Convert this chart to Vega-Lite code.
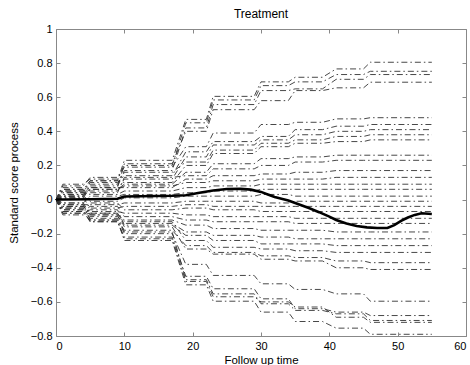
{
"$schema":"https://vega.github.io/schema/vega-lite/v6.json",
"width":410,"height":307,
"autosize":{"type":"none"},
"padding":{"left":56,"top":29,"right":4,"bottom":29},
"config":{"view":{"stroke":null},"font":"Liberation Sans",
 "axis":{"domainColor":"#888888","tickColor":"#888888","tickSize":-4,"labelPadding":8,"labelFontSize":11,"labelColor":"black","titleFontSize":11.5,"titleFontWeight":"normal","titleColor":"black","grid":false}},
"title":{"text":"Treatment","fontSize":12,"fontWeight":"normal","offset":2,"font":"Liberation Sans"},
"datasets":{
"sim":[
{"p":1,"t":0,"v":0},{"p":1,"t":1,"v":0.06},{"p":1,"t":4,"v":0.06},{"p":1,"t":5,"v":0.11},{"p":1,"t":9,"v":0.11},{"p":1,"t":10,"v":0.23},{"p":1,"t":17,"v":0.23},{"p":1,"t":19,"v":0.47},{"p":1,"t":22,"v":0.47},{"p":1,"t":23,"v":0.605},{"p":1,"t":29,"v":0.605},{"p":1,"t":30,"v":0.69},{"p":1,"t":34,"v":0.69},{"p":1,"t":35,"v":0.717},{"p":1,"t":39,"v":0.717},{"p":1,"t":41,"v":0.766},{"p":1,"t":45,"v":0.766},{"p":1,"t":46,"v":0.805},{"p":1,"t":55,"v":0.805},
{"p":2,"t":0,"v":0},{"p":2,"t":1,"v":0.08},{"p":2,"t":4,"v":0.08},{"p":2,"t":5,"v":0.13},{"p":2,"t":9,"v":0.13},{"p":2,"t":10,"v":0.2},{"p":2,"t":17,"v":0.2},{"p":2,"t":19,"v":0.45},{"p":2,"t":22,"v":0.45},{"p":2,"t":23,"v":0.584},{"p":2,"t":29,"v":0.584},{"p":2,"t":30,"v":0.668},{"p":2,"t":34,"v":0.668},{"p":2,"t":35,"v":0.69},{"p":2,"t":39,"v":0.69},{"p":2,"t":41,"v":0.733},{"p":2,"t":45,"v":0.733},{"p":2,"t":46,"v":0.752},{"p":2,"t":55,"v":0.752},
{"p":3,"t":0,"v":0},{"p":3,"t":1,"v":0.03},{"p":3,"t":4,"v":0.03},{"p":3,"t":5,"v":0.09},{"p":3,"t":9,"v":0.09},{"p":3,"t":10,"v":0.17},{"p":3,"t":17,"v":0.17},{"p":3,"t":19,"v":0.42},{"p":3,"t":22,"v":0.42},{"p":3,"t":23,"v":0.557},{"p":3,"t":29,"v":0.557},{"p":3,"t":30,"v":0.639},{"p":3,"t":34,"v":0.639},{"p":3,"t":35,"v":0.649},{"p":3,"t":39,"v":0.649},{"p":3,"t":41,"v":0.705},{"p":3,"t":45,"v":0.705},{"p":3,"t":46,"v":0.733},{"p":3,"t":55,"v":0.733},
{"p":4,"t":0,"v":0},{"p":4,"t":1,"v":0.05},{"p":4,"t":4,"v":0.05},{"p":4,"t":5,"v":0.07},{"p":4,"t":9,"v":0.07},{"p":4,"t":10,"v":0.21},{"p":4,"t":17,"v":0.21},{"p":4,"t":19,"v":0.4},{"p":4,"t":22,"v":0.4},{"p":4,"t":23,"v":0.527},{"p":4,"t":29,"v":0.527},{"p":4,"t":30,"v":0.58},{"p":4,"t":34,"v":0.58},{"p":4,"t":35,"v":0.639},{"p":4,"t":39,"v":0.639},{"p":4,"t":41,"v":0.655},{"p":4,"t":45,"v":0.655},{"p":4,"t":46,"v":0.688},{"p":4,"t":55,"v":0.688},
{"p":5,"t":0,"v":0},{"p":5,"t":1,"v":0.09},{"p":5,"t":4,"v":0.09},{"p":5,"t":5,"v":0.12},{"p":5,"t":9,"v":0.12},{"p":5,"t":10,"v":0.19},{"p":5,"t":17,"v":0.19},{"p":5,"t":19,"v":0.31},{"p":5,"t":22,"v":0.31},{"p":5,"t":23,"v":0.39},{"p":5,"t":29,"v":0.39},{"p":5,"t":30,"v":0.44},{"p":5,"t":34,"v":0.44},{"p":5,"t":35,"v":0.453},{"p":5,"t":39,"v":0.453},{"p":5,"t":41,"v":0.473},{"p":5,"t":45,"v":0.473},{"p":5,"t":46,"v":0.48},{"p":5,"t":55,"v":0.48},
{"p":6,"t":0,"v":0},{"p":6,"t":1,"v":0.04},{"p":6,"t":4,"v":0.04},{"p":6,"t":5,"v":0.1},{"p":6,"t":9,"v":0.1},{"p":6,"t":10,"v":0.14},{"p":6,"t":17,"v":0.14},{"p":6,"t":19,"v":0.28},{"p":6,"t":22,"v":0.28},{"p":6,"t":23,"v":0.34},{"p":6,"t":29,"v":0.34},{"p":6,"t":30,"v":0.37},{"p":6,"t":34,"v":0.37},{"p":6,"t":35,"v":0.41},{"p":6,"t":39,"v":0.41},{"p":6,"t":41,"v":0.43},{"p":6,"t":45,"v":0.43},{"p":6,"t":46,"v":0.44},{"p":6,"t":55,"v":0.44},
{"p":7,"t":0,"v":0},{"p":7,"t":1,"v":0.07},{"p":7,"t":4,"v":0.07},{"p":7,"t":5,"v":0.05},{"p":7,"t":9,"v":0.05},{"p":7,"t":10,"v":0.12},{"p":7,"t":17,"v":0.12},{"p":7,"t":19,"v":0.25},{"p":7,"t":22,"v":0.25},{"p":7,"t":23,"v":0.32},{"p":7,"t":29,"v":0.32},{"p":7,"t":30,"v":0.35},{"p":7,"t":34,"v":0.35},{"p":7,"t":35,"v":0.38},{"p":7,"t":39,"v":0.38},{"p":7,"t":41,"v":0.4},{"p":7,"t":45,"v":0.4},{"p":7,"t":46,"v":0.41},{"p":7,"t":55,"v":0.41},
{"p":8,"t":0,"v":0},{"p":8,"t":1,"v":0.02},{"p":8,"t":4,"v":0.02},{"p":8,"t":5,"v":0.08},{"p":8,"t":9,"v":0.08},{"p":8,"t":10,"v":0.16},{"p":8,"t":17,"v":0.16},{"p":8,"t":19,"v":0.22},{"p":8,"t":22,"v":0.22},{"p":8,"t":23,"v":0.29},{"p":8,"t":29,"v":0.29},{"p":8,"t":30,"v":0.33},{"p":8,"t":34,"v":0.33},{"p":8,"t":35,"v":0.35},{"p":8,"t":39,"v":0.35},{"p":8,"t":41,"v":0.37},{"p":8,"t":45,"v":0.37},{"p":8,"t":46,"v":0.38},{"p":8,"t":55,"v":0.38},
{"p":9,"t":0,"v":0},{"p":9,"t":1,"v":0.05},{"p":9,"t":4,"v":0.05},{"p":9,"t":5,"v":0.11},{"p":9,"t":9,"v":0.11},{"p":9,"t":10,"v":0.1},{"p":9,"t":17,"v":0.1},{"p":9,"t":19,"v":0.2},{"p":9,"t":22,"v":0.2},{"p":9,"t":23,"v":0.27},{"p":9,"t":29,"v":0.27},{"p":9,"t":30,"v":0.31},{"p":9,"t":34,"v":0.31},{"p":9,"t":35,"v":0.33},{"p":9,"t":39,"v":0.33},{"p":9,"t":41,"v":0.34},{"p":9,"t":45,"v":0.34},{"p":9,"t":46,"v":0.35},{"p":9,"t":55,"v":0.35},
{"p":10,"t":0,"v":0},{"p":10,"t":1,"v":0.03},{"p":10,"t":4,"v":0.03},{"p":10,"t":5,"v":0.06},{"p":10,"t":9,"v":0.06},{"p":10,"t":10,"v":0.09},{"p":10,"t":17,"v":0.09},{"p":10,"t":19,"v":0.16},{"p":10,"t":22,"v":0.16},{"p":10,"t":23,"v":0.21},{"p":10,"t":29,"v":0.21},{"p":10,"t":30,"v":0.24},{"p":10,"t":34,"v":0.24},{"p":10,"t":35,"v":0.25},{"p":10,"t":39,"v":0.25},{"p":10,"t":41,"v":0.26},{"p":10,"t":45,"v":0.26},{"p":10,"t":46,"v":0.26},{"p":10,"t":55,"v":0.26},
{"p":11,"t":0,"v":0},{"p":11,"t":1,"v":0.06},{"p":11,"t":4,"v":0.06},{"p":11,"t":5,"v":0.04},{"p":11,"t":9,"v":0.04},{"p":11,"t":10,"v":0.13},{"p":11,"t":17,"v":0.13},{"p":11,"t":19,"v":0.14},{"p":11,"t":22,"v":0.14},{"p":11,"t":23,"v":0.18},{"p":11,"t":29,"v":0.18},{"p":11,"t":30,"v":0.2},{"p":11,"t":34,"v":0.2},{"p":11,"t":35,"v":0.22},{"p":11,"t":39,"v":0.22},{"p":11,"t":41,"v":0.23},{"p":11,"t":45,"v":0.23},{"p":11,"t":46,"v":0.23},{"p":11,"t":55,"v":0.23},
{"p":12,"t":0,"v":0},{"p":12,"t":1,"v":0.01},{"p":12,"t":4,"v":0.01},{"p":12,"t":5,"v":0.07},{"p":12,"t":9,"v":0.07},{"p":12,"t":10,"v":0.07},{"p":12,"t":17,"v":0.07},{"p":12,"t":19,"v":0.12},{"p":12,"t":22,"v":0.12},{"p":12,"t":23,"v":0.14},{"p":12,"t":29,"v":0.14},{"p":12,"t":30,"v":0.15},{"p":12,"t":34,"v":0.15},{"p":12,"t":35,"v":0.16},{"p":12,"t":39,"v":0.16},{"p":12,"t":41,"v":0.17},{"p":12,"t":45,"v":0.17},{"p":12,"t":46,"v":0.17},{"p":12,"t":55,"v":0.17},
{"p":13,"t":0,"v":0},{"p":13,"t":1,"v":0.04},{"p":13,"t":4,"v":0.04},{"p":13,"t":5,"v":0.03},{"p":13,"t":9,"v":0.03},{"p":13,"t":10,"v":0.05},{"p":13,"t":17,"v":0.05},{"p":13,"t":19,"v":0.07},{"p":13,"t":22,"v":0.07},{"p":13,"t":23,"v":0.08},{"p":13,"t":29,"v":0.08},{"p":13,"t":30,"v":0.09},{"p":13,"t":34,"v":0.09},{"p":13,"t":35,"v":0.09},{"p":13,"t":39,"v":0.09},{"p":13,"t":41,"v":0.09},{"p":13,"t":45,"v":0.09},{"p":13,"t":46,"v":0.09},{"p":13,"t":55,"v":0.09},
{"p":14,"t":0,"v":0},{"p":14,"t":1,"v":-0.02},{"p":14,"t":4,"v":-0.02},{"p":14,"t":5,"v":0.02},{"p":14,"t":9,"v":0.02},{"p":14,"t":10,"v":0.03},{"p":14,"t":17,"v":0.03},{"p":14,"t":19,"v":0.04},{"p":14,"t":22,"v":0.04},{"p":14,"t":23,"v":0.05},{"p":14,"t":29,"v":0.05},{"p":14,"t":30,"v":0.06},{"p":14,"t":34,"v":0.06},{"p":14,"t":35,"v":0.06},{"p":14,"t":39,"v":0.06},{"p":14,"t":41,"v":0.06},{"p":14,"t":45,"v":0.06},{"p":14,"t":46,"v":0.06},{"p":14,"t":55,"v":0.06},
{"p":15,"t":0,"v":0},{"p":15,"t":1,"v":0.02},{"p":15,"t":4,"v":0.02},{"p":15,"t":5,"v":-0.01},{"p":15,"t":9,"v":-0.01},{"p":15,"t":10,"v":0.01},{"p":15,"t":17,"v":0.01},{"p":15,"t":19,"v":0.02},{"p":15,"t":22,"v":0.02},{"p":15,"t":23,"v":0.02},{"p":15,"t":29,"v":0.02},{"p":15,"t":30,"v":0.03},{"p":15,"t":34,"v":0.03},{"p":15,"t":35,"v":0.02},{"p":15,"t":39,"v":0.02},{"p":15,"t":41,"v":0.02},{"p":15,"t":45,"v":0.02},{"p":15,"t":46,"v":0.02},{"p":15,"t":55,"v":0.02},
{"p":16,"t":0,"v":0},{"p":16,"t":1,"v":-0.03},{"p":16,"t":4,"v":-0.03},{"p":16,"t":5,"v":-0.03},{"p":16,"t":9,"v":-0.03},{"p":16,"t":10,"v":-0.02},{"p":16,"t":17,"v":-0.02},{"p":16,"t":19,"v":-0.01},{"p":16,"t":22,"v":-0.01},{"p":16,"t":23,"v":-0.01},{"p":16,"t":29,"v":-0.01},{"p":16,"t":30,"v":-0.02},{"p":16,"t":34,"v":-0.02},{"p":16,"t":35,"v":-0.01},{"p":16,"t":39,"v":-0.01},{"p":16,"t":41,"v":-0.01},{"p":16,"t":45,"v":-0.01},{"p":16,"t":46,"v":-0.01},{"p":16,"t":55,"v":-0.01},
{"p":17,"t":0,"v":0},{"p":17,"t":1,"v":0.01},{"p":17,"t":4,"v":0.01},{"p":17,"t":5,"v":-0.05},{"p":17,"t":9,"v":-0.05},{"p":17,"t":10,"v":-0.04},{"p":17,"t":17,"v":-0.04},{"p":17,"t":19,"v":-0.03},{"p":17,"t":22,"v":-0.03},{"p":17,"t":23,"v":-0.04},{"p":17,"t":29,"v":-0.04},{"p":17,"t":30,"v":-0.04},{"p":17,"t":34,"v":-0.04},{"p":17,"t":35,"v":-0.04},{"p":17,"t":39,"v":-0.04},{"p":17,"t":41,"v":-0.04},{"p":17,"t":45,"v":-0.04},{"p":17,"t":46,"v":-0.04},{"p":17,"t":55,"v":-0.04},
{"p":18,"t":0,"v":0},{"p":18,"t":1,"v":-0.05},{"p":18,"t":4,"v":-0.05},{"p":18,"t":5,"v":-0.02},{"p":18,"t":9,"v":-0.02},{"p":18,"t":10,"v":-0.06},{"p":18,"t":17,"v":-0.06},{"p":18,"t":19,"v":-0.05},{"p":18,"t":22,"v":-0.05},{"p":18,"t":23,"v":-0.06},{"p":18,"t":29,"v":-0.06},{"p":18,"t":30,"v":-0.07},{"p":18,"t":34,"v":-0.07},{"p":18,"t":35,"v":-0.07},{"p":18,"t":39,"v":-0.07},{"p":18,"t":41,"v":-0.07},{"p":18,"t":45,"v":-0.07},{"p":18,"t":46,"v":-0.07},{"p":18,"t":55,"v":-0.07},
{"p":19,"t":0,"v":0},{"p":19,"t":1,"v":-0.04},{"p":19,"t":4,"v":-0.04},{"p":19,"t":5,"v":-0.07},{"p":19,"t":9,"v":-0.07},{"p":19,"t":10,"v":-0.08},{"p":19,"t":17,"v":-0.08},{"p":19,"t":19,"v":-0.09},{"p":19,"t":22,"v":-0.09},{"p":19,"t":23,"v":-0.1},{"p":19,"t":29,"v":-0.1},{"p":19,"t":30,"v":-0.1},{"p":19,"t":34,"v":-0.1},{"p":19,"t":35,"v":-0.11},{"p":19,"t":39,"v":-0.11},{"p":19,"t":41,"v":-0.11},{"p":19,"t":45,"v":-0.11},{"p":19,"t":46,"v":-0.11},{"p":19,"t":55,"v":-0.11},
{"p":20,"t":0,"v":0},{"p":20,"t":1,"v":-0.07},{"p":20,"t":4,"v":-0.07},{"p":20,"t":5,"v":-0.04},{"p":20,"t":9,"v":-0.04},{"p":20,"t":10,"v":-0.1},{"p":20,"t":17,"v":-0.1},{"p":20,"t":19,"v":-0.12},{"p":20,"t":22,"v":-0.12},{"p":20,"t":23,"v":-0.13},{"p":20,"t":29,"v":-0.13},{"p":20,"t":30,"v":-0.13},{"p":20,"t":34,"v":-0.13},{"p":20,"t":35,"v":-0.14},{"p":20,"t":39,"v":-0.14},{"p":20,"t":41,"v":-0.14},{"p":20,"t":45,"v":-0.14},{"p":20,"t":46,"v":-0.14},{"p":20,"t":55,"v":-0.14},
{"p":21,"t":0,"v":0},{"p":21,"t":1,"v":-0.02},{"p":21,"t":4,"v":-0.02},{"p":21,"t":5,"v":-0.09},{"p":21,"t":9,"v":-0.09},{"p":21,"t":10,"v":-0.12},{"p":21,"t":17,"v":-0.12},{"p":21,"t":19,"v":-0.15},{"p":21,"t":22,"v":-0.15},{"p":21,"t":23,"v":-0.17},{"p":21,"t":29,"v":-0.17},{"p":21,"t":30,"v":-0.18},{"p":21,"t":34,"v":-0.18},{"p":21,"t":35,"v":-0.18},{"p":21,"t":39,"v":-0.18},{"p":21,"t":41,"v":-0.19},{"p":21,"t":45,"v":-0.19},{"p":21,"t":46,"v":-0.19},{"p":21,"t":55,"v":-0.19},
{"p":22,"t":0,"v":0},{"p":22,"t":1,"v":-0.06},{"p":22,"t":4,"v":-0.06},{"p":22,"t":5,"v":-0.1},{"p":22,"t":9,"v":-0.1},{"p":22,"t":10,"v":-0.14},{"p":22,"t":17,"v":-0.14},{"p":22,"t":19,"v":-0.19},{"p":22,"t":22,"v":-0.19},{"p":22,"t":23,"v":-0.21},{"p":22,"t":29,"v":-0.21},{"p":22,"t":30,"v":-0.22},{"p":22,"t":34,"v":-0.22},{"p":22,"t":35,"v":-0.23},{"p":22,"t":39,"v":-0.23},{"p":22,"t":41,"v":-0.23},{"p":22,"t":45,"v":-0.23},{"p":22,"t":46,"v":-0.23},{"p":22,"t":55,"v":-0.23},
{"p":23,"t":0,"v":0},{"p":23,"t":1,"v":-0.08},{"p":23,"t":4,"v":-0.08},{"p":23,"t":5,"v":-0.06},{"p":23,"t":9,"v":-0.06},{"p":23,"t":10,"v":-0.15},{"p":23,"t":17,"v":-0.15},{"p":23,"t":19,"v":-0.21},{"p":23,"t":22,"v":-0.21},{"p":23,"t":23,"v":-0.24},{"p":23,"t":29,"v":-0.24},{"p":23,"t":30,"v":-0.26},{"p":23,"t":34,"v":-0.26},{"p":23,"t":35,"v":-0.26},{"p":23,"t":39,"v":-0.26},{"p":23,"t":41,"v":-0.27},{"p":23,"t":45,"v":-0.27},{"p":23,"t":46,"v":-0.27},{"p":23,"t":55,"v":-0.27},
{"p":24,"t":0,"v":0},{"p":24,"t":1,"v":-0.03},{"p":24,"t":4,"v":-0.03},{"p":24,"t":5,"v":-0.12},{"p":24,"t":9,"v":-0.12},{"p":24,"t":10,"v":-0.18},{"p":24,"t":17,"v":-0.18},{"p":24,"t":19,"v":-0.27},{"p":24,"t":22,"v":-0.27},{"p":24,"t":23,"v":-0.31},{"p":24,"t":29,"v":-0.31},{"p":24,"t":30,"v":-0.33},{"p":24,"t":34,"v":-0.33},{"p":24,"t":35,"v":-0.34},{"p":24,"t":39,"v":-0.34},{"p":24,"t":41,"v":-0.36},{"p":24,"t":45,"v":-0.36},{"p":24,"t":46,"v":-0.37},{"p":24,"t":55,"v":-0.37},
{"p":25,"t":0,"v":0},{"p":25,"t":1,"v":-0.09},{"p":25,"t":4,"v":-0.09},{"p":25,"t":5,"v":-0.08},{"p":25,"t":9,"v":-0.08},{"p":25,"t":10,"v":-0.16},{"p":25,"t":17,"v":-0.16},{"p":25,"t":19,"v":-0.29},{"p":25,"t":22,"v":-0.29},{"p":25,"t":23,"v":-0.32},{"p":25,"t":29,"v":-0.32},{"p":25,"t":30,"v":-0.35},{"p":25,"t":34,"v":-0.35},{"p":25,"t":35,"v":-0.36},{"p":25,"t":39,"v":-0.36},{"p":25,"t":41,"v":-0.4},{"p":25,"t":45,"v":-0.4},{"p":25,"t":46,"v":-0.41},{"p":25,"t":55,"v":-0.41},
{"p":26,"t":0,"v":0},{"p":26,"t":1,"v":-0.05},{"p":26,"t":4,"v":-0.05},{"p":26,"t":5,"v":-0.11},{"p":26,"t":9,"v":-0.11},{"p":26,"t":10,"v":-0.2},{"p":26,"t":17,"v":-0.2},{"p":26,"t":19,"v":-0.38},{"p":26,"t":22,"v":-0.38},{"p":26,"t":23,"v":-0.445},{"p":26,"t":29,"v":-0.445},{"p":26,"t":30,"v":-0.494},{"p":26,"t":34,"v":-0.494},{"p":26,"t":35,"v":-0.527},{"p":26,"t":39,"v":-0.527},{"p":26,"t":41,"v":-0.553},{"p":26,"t":45,"v":-0.553},{"p":26,"t":46,"v":-0.596},{"p":26,"t":55,"v":-0.596},
{"p":27,"t":0,"v":0},{"p":27,"t":1,"v":-0.07},{"p":27,"t":4,"v":-0.07},{"p":27,"t":5,"v":-0.13},{"p":27,"t":9,"v":-0.13},{"p":27,"t":10,"v":-0.22},{"p":27,"t":17,"v":-0.22},{"p":27,"t":19,"v":-0.45},{"p":27,"t":22,"v":-0.45},{"p":27,"t":23,"v":-0.523},{"p":27,"t":29,"v":-0.523},{"p":27,"t":30,"v":-0.582},{"p":27,"t":34,"v":-0.582},{"p":27,"t":35,"v":-0.64},{"p":27,"t":39,"v":-0.64},{"p":27,"t":41,"v":-0.66},{"p":27,"t":45,"v":-0.66},{"p":27,"t":46,"v":-0.68},{"p":27,"t":55,"v":-0.68},
{"p":28,"t":0,"v":0},{"p":28,"t":1,"v":-0.04},{"p":28,"t":4,"v":-0.04},{"p":28,"t":5,"v":-0.09},{"p":28,"t":9,"v":-0.09},{"p":28,"t":10,"v":-0.19},{"p":28,"t":17,"v":-0.19},{"p":28,"t":19,"v":-0.47},{"p":28,"t":22,"v":-0.47},{"p":28,"t":23,"v":-0.553},{"p":28,"t":29,"v":-0.553},{"p":28,"t":30,"v":-0.611},{"p":28,"t":34,"v":-0.611},{"p":28,"t":35,"v":-0.65},{"p":28,"t":39,"v":-0.65},{"p":28,"t":41,"v":-0.67},{"p":28,"t":45,"v":-0.67},{"p":28,"t":46,"v":-0.709},{"p":28,"t":55,"v":-0.709},
{"p":29,"t":0,"v":0},{"p":29,"t":1,"v":-0.08},{"p":29,"t":4,"v":-0.08},{"p":29,"t":5,"v":-0.12},{"p":29,"t":9,"v":-0.12},{"p":29,"t":10,"v":-0.24},{"p":29,"t":17,"v":-0.24},{"p":29,"t":19,"v":-0.5},{"p":29,"t":22,"v":-0.5},{"p":29,"t":23,"v":-0.596},{"p":29,"t":29,"v":-0.596},{"p":29,"t":30,"v":-0.66},{"p":29,"t":34,"v":-0.66},{"p":29,"t":35,"v":-0.715},{"p":29,"t":39,"v":-0.715},{"p":29,"t":41,"v":-0.754},{"p":29,"t":45,"v":-0.754},{"p":29,"t":46,"v":-0.79},{"p":29,"t":55,"v":-0.79},
{"p":30,"t":0,"v":0},{"p":30,"t":1,"v":-0.06},{"p":30,"t":4,"v":-0.06},{"p":30,"t":5,"v":-0.13},{"p":30,"t":9,"v":-0.13},{"p":30,"t":10,"v":-0.23},{"p":30,"t":17,"v":-0.23},{"p":30,"t":19,"v":-0.48},{"p":30,"t":22,"v":-0.48},{"p":30,"t":23,"v":-0.57},{"p":30,"t":29,"v":-0.57},{"p":30,"t":30,"v":-0.6},{"p":30,"t":34,"v":-0.6},{"p":30,"t":35,"v":-0.63},{"p":30,"t":39,"v":-0.63},{"p":30,"t":41,"v":-0.69},{"p":30,"t":45,"v":-0.69},{"p":30,"t":46,"v":-0.72},{"p":30,"t":55,"v":-0.72},
{"p":31,"t":0,"v":0},{"p":31,"t":1,"v":0.02},{"p":31,"t":4,"v":0.02},{"p":31,"t":5,"v":0.06},{"p":31,"t":9,"v":0.06},{"p":31,"t":10,"v":0.08},{"p":31,"t":17,"v":0.08},{"p":31,"t":19,"v":0.1},{"p":31,"t":22,"v":0.1},{"p":31,"t":23,"v":0.11},{"p":31,"t":29,"v":0.11},{"p":31,"t":30,"v":0.12},{"p":31,"t":34,"v":0.12},{"p":31,"t":35,"v":0.12},{"p":31,"t":39,"v":0.12},{"p":31,"t":41,"v":0.13},{"p":31,"t":45,"v":0.13},{"p":31,"t":46,"v":0.13},{"p":31,"t":55,"v":0.13},
{"p":32,"t":0,"v":0},{"p":32,"t":1,"v":-0.04},{"p":32,"t":4,"v":-0.04},{"p":32,"t":5,"v":-0.08},{"p":32,"t":9,"v":-0.08},{"p":32,"t":10,"v":-0.13},{"p":32,"t":17,"v":-0.13},{"p":32,"t":19,"v":-0.24},{"p":32,"t":22,"v":-0.24},{"p":32,"t":23,"v":-0.28},{"p":32,"t":29,"v":-0.28},{"p":32,"t":30,"v":-0.29},{"p":32,"t":34,"v":-0.29},{"p":32,"t":35,"v":-0.3},{"p":32,"t":39,"v":-0.3},{"p":32,"t":41,"v":-0.31},{"p":32,"t":45,"v":-0.31},{"p":32,"t":46,"v":-0.31},{"p":32,"t":55,"v":-0.31}
],
"obs":[
{"t":0,"v":0},{"t":1,"v":0},{"t":5,"v":0.002},{"t":9,"v":0.005},{"t":10,"v":0.018},{"t":17,"v":0.022},{"t":19,"v":0.025},{"t":21,"v":0.04},{"t":23,"v":0.053},{"t":25,"v":0.062},{"t":27,"v":0.063},{"t":28.5,"v":0.058},{"t":30,"v":0.045},{"t":31,"v":0.03},{"t":32,"v":0.015},{"t":33,"v":0.005},{"t":34,"v":-0.005},{"t":35,"v":-0.02},{"t":36,"v":-0.035},{"t":37,"v":-0.05},{"t":38.5,"v":-0.074},{"t":40,"v":-0.1},{"t":41,"v":-0.12},{"t":42.5,"v":-0.14},{"t":44,"v":-0.155},{"t":45.5,"v":-0.163},{"t":47,"v":-0.167},{"t":48.5,"v":-0.167},{"t":49.5,"v":-0.15},{"t":50.5,"v":-0.125},{"t":51.5,"v":-0.105},{"t":52.5,"v":-0.09},{"t":53.5,"v":-0.08},{"t":55,"v":-0.085}
]},
"layer":[
{"data":{"name":"sim"},
 "mark":{"type":"line","strokeWidth":0.9,"strokeDash":[6,3,1.5,3],"color":"#333333"},
 "encoding":{
  "x":{"field":"t","type":"quantitative","scale":{"domain":[0,60],"nice":false,"zero":false},
       "axis":{"orient":"bottom","values":[0,10,20,30,40,50,60],"format":"d","title":"Follow up time","titlePadding":3}},
  "y":{"field":"v","type":"quantitative","scale":{"domain":[-0.8,1],"nice":false,"zero":false},
       "axis":{"orient":"left","values":[-0.8,-0.6,-0.4,-0.2,0,0.2,0.4,0.6,0.8,1],"format":".1~f","title":"Standard score process","titlePadding":11}},
  "detail":{"field":"p","type":"nominal"}}},
{"data":{"name":"obs"},
 "mark":{"type":"line","strokeWidth":2.6,"color":"black"},
 "encoding":{
  "x":{"field":"t","type":"quantitative","scale":{"domain":[0,60],"nice":false,"zero":false},
       "axis":{"orient":"top","values":[0,10,20,30,40,50,60],"labels":false,"title":null}},
  "y":{"field":"v","type":"quantitative","scale":{"domain":[-0.8,1],"nice":false,"zero":false},
       "axis":{"orient":"right","values":[-0.8,-0.6,-0.4,-0.2,0,0.2,0.4,0.6,0.8,1],"labels":false,"title":null}}}}
],
"resolve":{"axis":{"x":"independent","y":"independent"}}
}
